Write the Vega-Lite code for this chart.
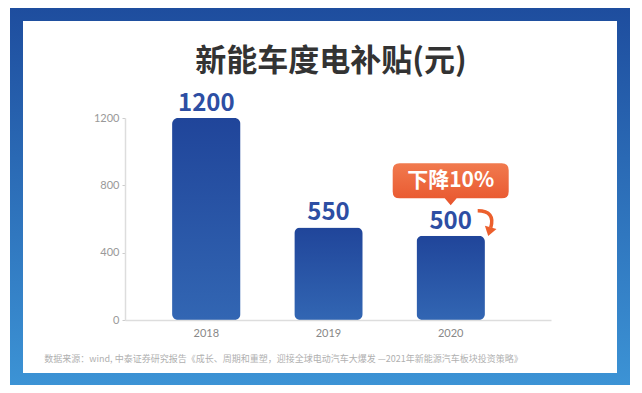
{
  "$schema": "https://vega.github.io/schema/vega-lite/v6.json",
  "width": 426,
  "height": 202,
  "autosize": {"type": "none"},
  "padding": {"left": 125, "top": 118, "right": 91, "bottom": 73},
  "background": "#ffffff",
  "config": {
    "view": {"stroke": null},
    "font": "Noto Sans CJK SC",
    "axisY": {
      "labelOverlap": false,
      "format": "d",
      "grid": false,
      "labelFont": "Lato",
      "labelFontSize": 11,
      "labelColor": "#999999",
      "labelPadding": 3,
      "tickSize": 3,
      "tickColor": "#cccccc",
      "domainColor": "#dddddd",
      "domainWidth": 1.5
    }
  },
  "title": {
    "text": "新能车度电补贴(元)",
    "fontSize": 31,
    "fontWeight": "bold",
    "color": "#333333",
    "font": "Noto Sans CJK SC",
    "anchor": "middle",
    "baseline": "bottom",
    "offset": -101,
    "dx": -7,
    "zindex": 1
  },
  "data": {
    "values": [
      {"year": "2018", "subsidy": 1200},
      {"year": "2019", "subsidy": 550},
      {"year": "2020", "subsidy": 500}
    ]
  },
  "layer": [
    {
      "data": {"values": [{}]},
      "mark": {
        "type": "rect",
        "x": -115, "x2": {"expr": "width + 79"}, "y": -110, "y2": {"expr": "height + 65"},
        "fill": {"gradient": "linear", "x1": 0, "y1": 0, "x2": 0, "y2": 1,
          "stops": [{"offset": 0, "color": "#1e4d9e"}, {"offset": 1, "color": "#3c93d5"}]}
      },
      "encoding": {}
    },
    {
      "data": {"values": [{}]},
      "mark": {
        "type": "rect",
        "x": -102, "x2": {"expr": "width + 66"}, "y": -97, "y2": {"expr": "height + 53"},
        "fill": "#ffffff"
      },
      "encoding": {}
    },
    {
      "mark": {
        "type": "bar",
        "cornerRadius": 6,
        "fill": {"gradient": "linear", "x1": 0, "y1": 0, "x2": 0, "y2": 1,
          "stops": [{"offset": 0, "color": "#20459a"}, {"offset": 1, "color": "#3266b3"}]}
      },
      "encoding": {
        "x": {
          "field": "year", "type": "ordinal",
          "scale": {"paddingInner": 0.44, "paddingOuter": 0.463, "align": 0.416},
          "axis": {
            "zindex": 1,
            "labelAngle": 0,
            "labelFont": "Lato",
            "labelFontSize": 11,
            "labelColor": "#888888",
            "labelPadding": 7,
            "ticks": false,
            "domainColor": "#dddddd",
            "domainWidth": 1.5,
            "title": "数据来源：wind, 中泰证券研究报告《成长、周期和重塑，迎接全球电动汽车大爆发 —2021年新能源汽车板块投资策略》",
            "titleFont": "Noto Sans CJK SC",
            "titleFontSize": 9,
            "titleFontWeight": "normal",
            "titleColor": "#b0b0b0",
            "titleX": 158,
            "titleY": 38,
            "titleAlign": "center",
            "titleBaseline": "middle"
          }
        },
        "y": {
          "field": "subsidy", "type": "quantitative",
          "scale": {"domain": [0, 1200], "nice": false},
          "axis": {"title": null, "zindex": 1, "labelOverlap": false, "values": [0, 100, 200, 300, 400, 500, 600, 700, 800, 900, 1000, 1100, 1200]}
        }
      }
    },
    {
      "mark": {
        "type": "text",
        "font": "Noto Sans CJK SC",
        "fontSize": 24,
        "fontWeight": "bold",
        "color": "#2d4ea3",
        "baseline": "alphabetic",
        "dy": -7
      },
      "encoding": {
        "x": {"field": "year", "type": "ordinal"},
        "y": {"field": "subsidy", "type": "quantitative"},
        "text": {"field": "subsidy", "type": "quantitative"}
      }
    },
    {
      "transform": [{"filter": "datum.year === '2020'"}],
      "layer": [
        {
          "mark": {
            "type": "point", "filled": true, "opacity": 1,
            "shape": "M -0.88 -0.302 L 0.88 -0.302 Q 1 -0.302 1 -0.182 L 1 0.182 Q 1 0.302 0.88 0.302 L 0.103 0.302 L 0 0.422 L -0.103 0.302 L -0.88 0.302 Q -1 0.302 -1 0.182 L -1 -0.182 Q -1 -0.302 -0.88 -0.302 Z",
            "size": 13456,
            "yOffset": -55,
            "strokeWidth": 0,
            "color": {"gradient": "linear", "x1": 0, "y1": 0, "x2": 0, "y2": 1,
              "stops": [{"offset": 0, "color": "#f17a4e"}, {"offset": 1, "color": "#e8552d"}]}
          },
          "encoding": {
            "x": {"field": "year", "type": "ordinal"},
            "y": {"field": "subsidy", "type": "quantitative"}
          }
        },
        {
          "mark": {
            "type": "text", "text": "下降10%", "font": "Noto Sans CJK SC", "fontSize": 21,
            "fontWeight": "bold", "color": "#ffffff", "baseline": "middle", "dy": -55
          },
          "encoding": {
            "x": {"field": "year", "type": "ordinal"},
            "y": {"field": "subsidy", "type": "quantitative"}
          }
        },
        {
          "mark": {
            "type": "point", "filled": false, "opacity": 1,
            "shape": "M -0.8 -1.2 Q 1.0 -1.2 0.5 0.5",
            "size": 400, "color": "#ec5f2c", "strokeWidth": 3.5, "xOffset": 35, "yOffset": -13
          },
          "encoding": {
            "x": {"field": "year", "type": "ordinal"},
            "y": {"field": "subsidy", "type": "quantitative"}
          }
        },
        {
          "mark": {
            "type": "point", "filled": true, "opacity": 1,
            "shape": "M -0.08 0.28 L 1.08 0.62 L 0.25 1.31 Z",
            "size": 400, "color": "#ec5f2c", "xOffset": 35, "yOffset": -13
          },
          "encoding": {
            "x": {"field": "year", "type": "ordinal"},
            "y": {"field": "subsidy", "type": "quantitative"}
          }
        }
      ]
    }
  ]
}
